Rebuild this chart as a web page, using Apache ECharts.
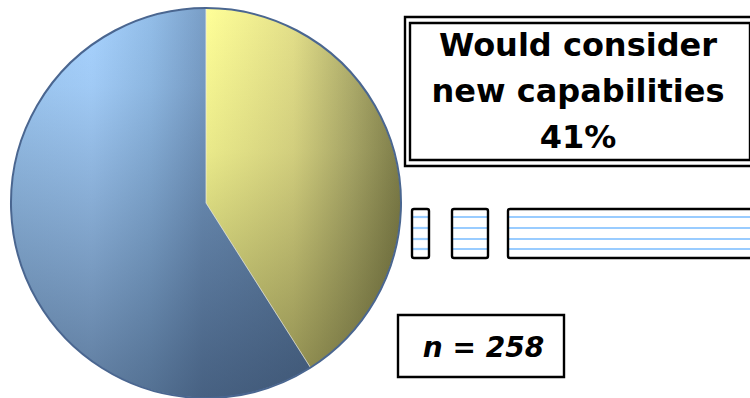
<!DOCTYPE html>
<html><head><meta charset="utf-8">
<script src="https://cdn.jsdelivr.net/npm/echarts@6/dist/echarts.min.js"></script>
<style>html,body{margin:0;padding:0;background:#fff}#c{width:750px;height:398px}</style>
</head><body><div id="c"></div>
<script>
// ---- data ----
const categories = ['Would consider new capabilities', 'Would not consider'];
const values = [41, 59];
const sampleSize = 258;
const calloutLines = ['Would consider', 'new capabilities'];

// ---- styles ----
const LG = echarts.graphic.LinearGradient;
const baseFills = [
  new LG(0, 0, 1, 0, [
    {offset: 0, color: '#FFFF98'},
    {offset: 0.45, color: '#E4E08A'},
    {offset: 0.75, color: '#B2B06E'},
    {offset: 1, color: '#86854F'}
  ]),
  new LG(0, 0, 1, 0, [
    {offset: 0, color: '#A0CBF5'},
    {offset: 0.27, color: '#A8D3FF'},
    {offset: 0.47, color: '#92BDE8'},
    {offset: 0.64, color: '#7A9FC8'},
    {offset: 1, color: '#6A8BB0'}
  ])
];
const shadeFills = [
  new LG(0, 0, 0, 1, [
    {offset: 0, color: 'rgba(40,40,10,0)'},
    {offset: 0.4, color: 'rgba(40,40,10,0.1)'},
    {offset: 1, color: 'rgba(40,40,10,0.42)'}
  ]),
  new LG(0, 0, 0, 1, [
    {offset: 0, color: 'rgba(20,35,60,0)'},
    {offset: 0.2, color: 'rgba(20,35,60,0.05)'},
    {offset: 0.5, color: 'rgba(20,35,60,0.22)'},
    {offset: 0.9, color: 'rgba(20,35,60,0.45)'},
    {offset: 1, color: 'rgba(20,35,60,0.5)'}
  ])
];

const chart = echarts.init(document.getElementById('c'), null, {renderer: 'svg'});

const LW = 2.4;
const stripeYs = [217, 228, 239, 249];
const boxes = [[412, 17], [452, 36], [508, 260]];
const stripeEls = [];
boxes.forEach(([x, w]) => {
  stripeYs.forEach(y => stripeEls.push({
    type: 'line', shape: {x1: x + 1, y1: y, x2: x + w - 1, y2: y},
    style: {stroke: '#99CCFF', lineWidth: 2.2}, silent: true
  }));
  stripeEls.push({
    type: 'rect', shape: {x: x, y: 209, width: w, height: 49, r: 2},
    style: {fill: 'none', stroke: '#000', lineWidth: LW}, silent: true
  });
});

const pieCommon = {
  type: 'pie', center: [206, 203], radius: 195, startAngle: 90, clockwise: true,
  silent: true, label: {show: false}, labelLine: {show: false}
};

chart.setOption({
  animation: false,
  backgroundColor: '#fff',
  series: [
    Object.assign({}, pieCommon, {
      data: categories.map((n, i) => ({name: n, value: values[i], itemStyle: {color: baseFills[i]}}))
    }),
    Object.assign({}, pieCommon, {
      itemStyle: {borderColor: 'rgba(235,235,225,0.6)', borderWidth: 0.8},
      data: categories.map((n, i) => ({name: n, value: values[i], itemStyle: {color: shadeFills[i]}}))
    }),
    Object.assign({}, pieCommon, {
      itemStyle: {color: 'transparent', borderColor: '#4A6690', borderWidth: 2},
      data: [{name: 'outline', value: values.reduce((a, b) => a + b, 0)}]
    })
  ],
  graphic: [
    {type: 'rect', shape: {x: 405, y: 17, width: 352, height: 149},
     style: {fill: '#fff', stroke: '#000', lineWidth: LW}, silent: true},
    {type: 'rect', shape: {x: 410, y: 23, width: 340, height: 137},
     style: {fill: 'none', stroke: '#000', lineWidth: LW}, silent: true},
    {type: 'text', x: 578, y: 91, silent: true,
     style: {text: calloutLines.concat([values[0] + '%']).join('\n'),
             font: 'bold 32px "DejaVu Sans"', fill: '#000',
             align: 'center', verticalAlign: 'middle', lineHeight: 46}},
    ...stripeEls,
    {type: 'rect', shape: {x: 398, y: 315, width: 166, height: 62},
     style: {fill: '#fff', stroke: '#000', lineWidth: LW}, silent: true},
    {type: 'text', x: 483.5, y: 347, silent: true,
     style: {text: 'n = ' + sampleSize, font: 'italic bold 28px "DejaVu Sans"', fill: '#000',
             align: 'center', verticalAlign: 'middle'}}
  ]
});
</script>
</body></html>
